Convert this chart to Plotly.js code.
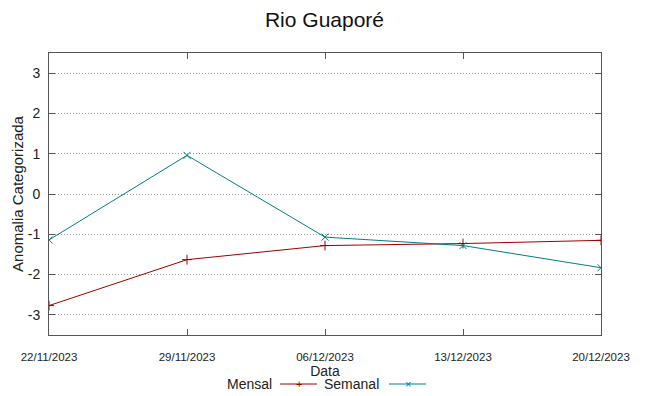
<!DOCTYPE html>
<html>
<head>
<meta charset="utf-8">
<script src="https://cdn.plot.ly/plotly-3.0.1.min.js"></script>
<style>html,body{margin:0;padding:0;background:#fff}#chart{width:649px;height:396px}</style>
</head>
<body>
<div id="chart"></div>
<script>
const dates = ["22/11/2023", "29/11/2023", "06/12/2023", "13/12/2023", "20/12/2023"];
const mensal = [-2.77, -1.63, -1.28, -1.23, -1.15];
const semanal = [-1.14, 0.96, -1.07, -1.28, -1.83];
const yTicks = [-3, -2, -1, 0, 1, 2, 3];
const seriesNames = ["Mensal", "Semanal"];

const RED = "#990000", TEAL = "#008080";
const SANS = "'Liberation Sans', Arial, sans-serif";

const traces = [
  {x: dates, y: mensal, name: seriesNames[0], type: "scatter", mode: "lines+markers",
   line: {color: RED, width: 1}, marker: {symbol: "cross-thin-open", size: 7, line: {color: RED, width: 1}}},
  {x: dates, y: semanal, name: seriesNames[1], type: "scatter", mode: "lines+markers",
   line: {color: TEAL, width: 1}, marker: {symbol: "x-thin-open", size: 7, line: {color: TEAL, width: 1}}}
];

const L = 49, R = 48, T = 53, B = 61, W = 649, H = 396;
const pw = W - L - R, ph = H - T - B;
const px = v => (v - L) / pw;
const py = v => (H - B - v) / ph;
const legY = 384;

const layout = {
  width: W, height: H,
  margin: {l: L, r: R, t: T, b: B, pad: 0},
  paper_bgcolor: "#fff", plot_bgcolor: "#fff",
  showlegend: false,
  font: {family: SANS, color: "#222"},
  title: {text: "Rio Guaporé", font: {family: SANS, size: 21, color: "#111"}, x: 0.5, xanchor: "center", y: 0.95, yanchor: "middle"},
  xaxis: {
    type: "category", range: [0, dates.length - 1],
    tickvals: dates, ticktext: dates,
    showgrid: false, zeroline: false,
    showline: true, linecolor: "#555", linewidth: 1, mirror: "ticks",
    ticks: "inside", ticklen: 6, tickcolor: "#555",
    tickfont: {family: SANS, size: 11.5, color: "#222"},
    ticklabelstandoff: 11,
    title: {text: "Data", font: {family: SANS, size: 14, color: "#222"}, standoff: 0}
  },
  yaxis: {
    range: [-3.5, 3.5], tickvals: yTicks, ticktext: yTicks.map(String),
    showgrid: true, gridcolor: "#999999", griddash: "1px,2px", gridwidth: 1,
    zeroline: false,
    showline: true, linecolor: "#555", linewidth: 1, mirror: "ticks",
    ticks: "inside", ticklen: 6, tickcolor: "#555",
    tickfont: {family: SANS, size: 14, color: "#222"},
    ticklabelstandoff: 5,
    title: {text: "Anomalia Categorizada", font: {family: SANS, size: 15, color: "#222"}, standoff: 0}
  },
  annotations: [
    {text: seriesNames[0], xref: "paper", yref: "paper", x: px(274), y: py(legY), xanchor: "right", yanchor: "middle",
     showarrow: false, font: {family: SANS, size: 14, color: "#222"}},
    {text: seriesNames[1], xref: "paper", yref: "paper", x: px(381), y: py(legY), xanchor: "right", yanchor: "middle",
     showarrow: false, font: {family: SANS, size: 14, color: "#222"}},
    {text: "+", xref: "paper", yref: "paper", x: px(298.5), y: py(legY), xanchor: "center", yanchor: "middle",
     showarrow: false, font: {family: SANS, size: 11, color: RED}},
    {text: "×", xref: "paper", yref: "paper", x: px(407.5), y: py(legY), xanchor: "center", yanchor: "middle",
     showarrow: false, font: {family: SANS, size: 11, color: TEAL}}
  ],
  shapes: [
    {type: "line", xref: "paper", yref: "paper", x0: px(280), x1: px(317), y0: py(legY), y1: py(legY), line: {color: RED, width: 1}},
    {type: "line", xref: "paper", yref: "paper", x0: px(389), x1: px(426), y0: py(legY), y1: py(legY), line: {color: TEAL, width: 1}}
  ]
};

Plotly.newPlot("chart", traces, layout, {displayModeBar: false, staticPlot: true});
</script>
</body>
</html>
